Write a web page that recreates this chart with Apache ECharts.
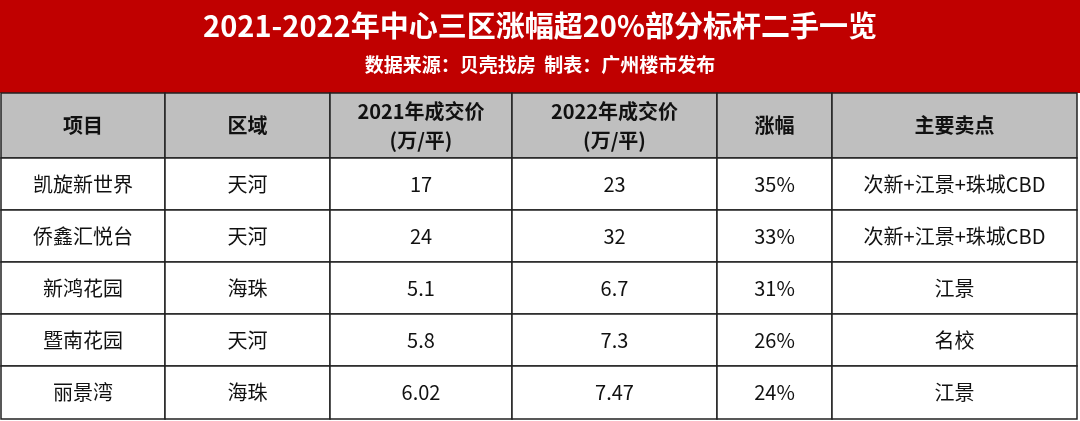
<!DOCTYPE html>
<html><head><meta charset="utf-8">
<script src="https://cdn.jsdelivr.net/npm/echarts@6/dist/echarts.min.js"></script>
<style>html,body{margin:0;padding:0;background:#fff}#main{width:1080px;height:421px}</style>
</head><body><div id="main"></div>
<script>
const chart = echarts.init(document.getElementById('main'));

// 表格数据
const headers = ['项目', '区域', '2021年成交价\n(万/平)', '2022年成交价\n(万/平)', '涨幅', '主要卖点'];
const projects = ['凯旋新世界', '侨鑫汇悦台', '新鸿花园', '暨南花园', '丽景湾'];
const districts = ['天河', '天河', '海珠', '天河', '海珠'];
const price2021 = ['17', '24', '5.1', '5.8', '6.02'];
const price2022 = ['23', '32', '6.7', '7.3', '7.47'];
const growth = ['35%', '33%', '31%', '26%', '24%'];
const highlights = ['次新+江景+珠城CBD', '次新+江景+珠城CBD', '江景', '名校', '江景'];

// 版式（像素坐标）
const colEdges = [1, 165, 330, 512, 717, 832, 1077];
const rowEdges = [93, 158, 210, 262, 314, 366, 419];

const cells = [];
headers.forEach((h, c) => cells.push([c, 0, h]));
const cols = [projects, districts, price2021, price2022, growth, highlights];
cols.forEach((arr, c) => arr.forEach((v, r) => cells.push([c, r + 1, v])));

const font = '"Microsoft YaHei","Noto Sans CJK SC",sans-serif';

const option = {
  animation: false,
  grid: { left: 0, right: 0, top: 0, bottom: 0 },
  xAxis: { type: 'value', min: 0, max: 1080, show: false },
  yAxis: { type: 'value', min: 0, max: 421, inverse: true, show: false },
  graphic: [
    { type: 'rect', shape: { x: 0, y: 0, width: 1080, height: 93 }, style: { fill: '#C00000' }, z: 0 },
    { type: 'text', left: 'center', top: 11, style: { text: '2021-2022年中心三区涨幅超20%部分标杆二手一览', fill: '#fff', font: 'bold 29px ' + font } },
    { type: 'text', left: 'center', top: 55, style: { text: '数据来源：贝壳找房  制表：广州楼市发布', fill: '#fff', font: 'bold 19px ' + font } }
  ],
  series: [{
    type: 'custom',
    data: cells,
    renderItem: (params, api) => {
      const c = api.value(0), r = api.value(1);
      const p0 = api.coord([colEdges[c], rowEdges[r]]);
      const p1 = api.coord([colEdges[c + 1], rowEdges[r + 1]]);
      const head = r === 0;
      return {
        type: 'group',
        children: [
          { type: 'rect', shape: { x: p0[0], y: p0[1], width: p1[0] - p0[0], height: p1[1] - p0[1] },
            style: { fill: head ? '#BFBFBF' : '#fff', stroke: '#222', lineWidth: 1.5 } },
          { type: 'text', style: { text: cells[params.dataIndex][2], x: (p0[0] + p1[0]) / 2, y: (p0[1] + p1[1]) / 2,
            align: 'center', verticalAlign: 'middle', fill: '#111', lineHeight: 29,
            font: (head ? 'bold 20px ' : '20px ') + font } }
        ]
      };
    }
  }]
};
chart.setOption(option);
</script></body></html>
